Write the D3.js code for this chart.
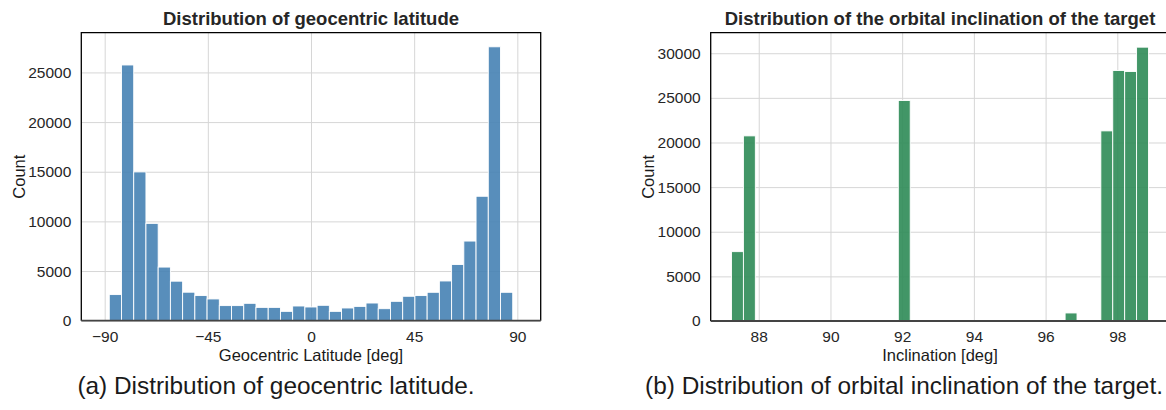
<!DOCTYPE html>
<html>
<head>
<meta charset="utf-8">
<script src="https://cdn.jsdelivr.net/npm/d3@7"></script>
<style>
  html, body { margin: 0; padding: 0; background: #fff; }
  svg { display: block; font-family: "Liberation Sans", Arial, sans-serif; }
  .tick text { fill: #262626; font-size: 15.5px; }
  .grid line { stroke: #d6d6d6; stroke-width: 1; }
  .title { font-weight: bold; font-size: 18.5px; fill: #262626; }
  .label { font-size: 16.5px; fill: #1a1a1a; }
  .caption { font-size: 24.4px; fill: #1a1a1a; }
</style>
</head>
<body>
<div id="app"></div>
<script>
"use strict";

// latitude histogram: 33 bins between -88 and 88 deg
const latRange = [-88, 88];
const latCounts = [2630, 25750, 14980, 9800, 5400, 3980, 2870, 2530, 2190, 1520, 1520,
    1750, 1340, 1340, 940, 1480, 1380, 1550, 940, 1280, 1440, 1780, 1210, 1950, 2460,
    2530, 2860, 4000, 5660, 8020, 12530, 27580, 2860];
const latTicks = [-90, -45, 0, 45, 90];

// inclination histogram: 35 bins between 87.24 and 98.87 deg
const incRange = [87.24, 98.87];
const incCounts = [7770, 20740, 0, 0, 0, 0, 0, 0, 0, 0, 0, 0, 0, 0, 24700, 0, 0, 0, 0,
    0, 0, 0, 0, 0, 0, 0, 0, 0, 900, 0, 0, 21300, 28060, 27950, 30680];
const incTicks = [88, 90, 92, 94, 96, 98];

const countTicksLat = [0, 5000, 10000, 15000, 20000, 25000];
const countTicksInc = [0, 5000, 10000, 15000, 20000, 25000, 30000];

const svg = d3.select('#app').append('svg')
    .attr('width', 1166)
    .attr('height', 410);

/**
 * Draws one histogram panel
 */
const drawPanel = (cfg) => {
    const w = cfg.x1 - cfg.x0;
    const h = cfg.y1 - cfg.y0;
    const g = svg.append('g').attr('transform', `translate(${cfg.x0},${cfg.y0})`);

    const x = d3.scaleLinear().domain(cfg.xDomain).range([0, w]);
    const y = d3.scaleLinear().domain(cfg.yDomain).range([h, 0]);

    // grid
    g.append('g').classed('grid', true)
        .attr('transform', `translate(0,${h})`)
        .call(d3.axisBottom(x).tickValues(cfg.xTicks).tickSize(-h).tickFormat(''))
        .call(s => s.select('.domain').remove());
    g.append('g').classed('grid', true)
        .call(d3.axisLeft(y).tickValues(cfg.yTicks).tickSize(-w).tickFormat(''))
        .call(s => s.select('.domain').remove());

    // bars
    const n = cfg.counts.length;
    const binW = (cfg.range[1] - cfg.range[0]) / n;
    const bins = cfg.counts.map((c, i) => ({
        x0: cfg.range[0] + i * binW,
        x1: cfg.range[0] + (i + 1) * binW,
        c
    })).filter(d => d.c > 0);

    g.append('g').selectAll('rect')
        .data(bins)
        .join('rect')
        .attr('x', d => x(d.x0))
        .attr('y', d => y(d.c))
        .attr('width', d => x(d.x1) - x(d.x0))
        .attr('height', d => y(0) - y(d.c))
        .attr('fill', cfg.color)
        .attr('fill-opacity', 0.9)
        .attr('stroke', '#fff')
        .attr('stroke-width', 0.9);

    // tick labels
    g.append('g')
        .attr('transform', `translate(0,${h})`)
        .call(d3.axisBottom(x).tickValues(cfg.xTicks).tickSize(0).tickPadding(10))
        .call(s => s.select('.domain').remove());
    g.append('g')
        .call(d3.axisLeft(y).tickValues(cfg.yTicks).tickSize(0).tickPadding(10).tickFormat(d3.format('d')))
        .call(s => s.select('.domain').remove());

    // spines
    g.append('path')
        .attr('d', `M0,${h}V0H${w}V${h}`)
        .attr('fill', 'none')
        .attr('stroke', '#000')
        .attr('stroke-width', 1.3);
    g.append('line')
        .attr('x1', 0).attr('x2', w)
        .attr('y1', h).attr('y2', h)
        .attr('stroke', '#444')
        .attr('stroke-width', 1.8);

    // texts
    g.append('text').classed('title', true)
        .attr('x', w / 2).attr('y', -7.5)
        .attr('text-anchor', 'middle')
        .text(cfg.title);
    g.append('text').classed('label', true)
        .attr('x', w / 2).attr('y', h + 40)
        .attr('text-anchor', 'middle')
        .text(cfg.xLabel);
    g.append('text').classed('label', true)
        .attr('transform', `translate(${cfg.yLabelX - cfg.x0},${h / 2}) rotate(-90)`)
        .attr('text-anchor', 'middle')
        .attr('dy', '0.35em')
        .text('Count');

    svg.append('text').classed('caption', true)
        .attr('x', cfg.captionX).attr('y', 394)
        .attr('text-anchor', 'middle')
        .text(cfg.caption);
}

drawPanel({
    x0: 81.3, x1: 540.7, y0: 32.7, y1: 320.7,
    xDomain: [-100.2, 100.2], yDomain: [0, 29000],
    xTicks: latTicks, yTicks: countTicksLat,
    range: latRange, counts: latCounts,
    color: 'steelblue',
    title: 'Distribution of geocentric latitude',
    xLabel: 'Geocentric Latitude [deg]',
    yLabelX: 19,
    caption: '(a) Distribution of geocentric latitude.',
    captionX: 276
});

drawPanel({
    x0: 710.7, x1: 1169.3, y0: 32.7, y1: 321,
    xDomain: [86.66, 99.45], yDomain: [0, 32300],
    xTicks: incTicks, yTicks: countTicksInc,
    range: incRange, counts: incCounts,
    color: 'seagreen',
    title: 'Distribution of the orbital inclination of the target',
    xLabel: 'Inclination [deg]',
    yLabelX: 648,
    caption: '(b) Distribution of orbital inclination of the target.',
    captionX: 904
});
</script>
</body>
</html>
